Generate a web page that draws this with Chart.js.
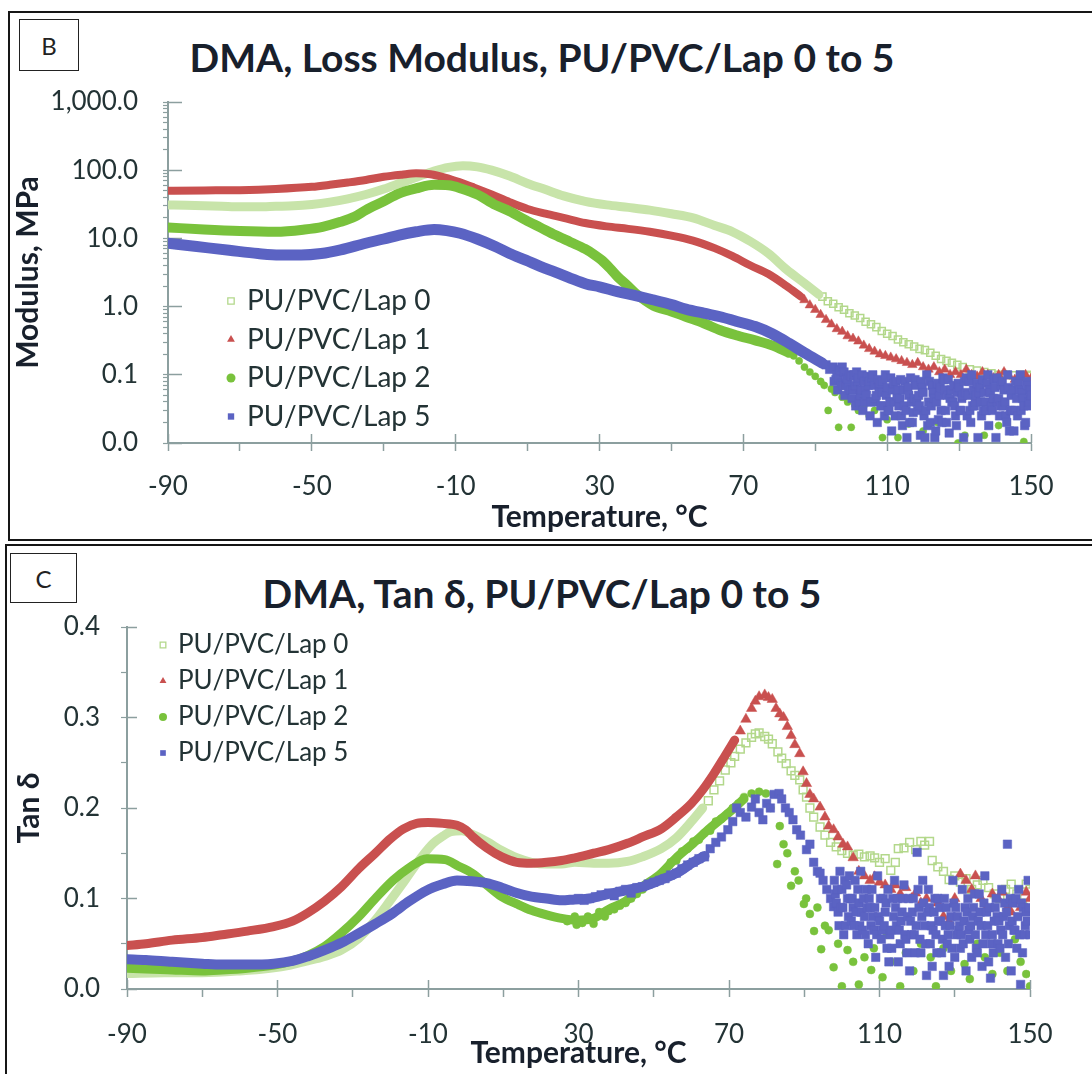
<!DOCTYPE html>
<html>
<head>
<meta charset="utf-8">
<title>DMA – PU/PVC/Lap 0 to 5</title>
<script src="https://cdn.jsdelivr.net/npm/chart.js@4.4.1/dist/chart.umd.min.js"></script>
<style>
  html, body { margin: 0; padding: 0; background: #fff; }
  body { position: relative; width: 1092px; height: 1074px; overflow: hidden;
         font-family: Lato, "Open Sans", "DejaVu Sans", sans-serif; color: #18202c; }
  .frame { position: absolute; border: 2px solid #161616; box-sizing: border-box; }
  #frameB { left: 8px; top: 11px; width: 1100px; height: 530px; }
  #frameC { left: 5px; top: 544px; width: 1100px; height: 540px; }
  .tag { position: absolute; box-sizing: border-box; border: 1.5px solid #222; display: flex;
         align-items: center; justify-content: center; font-size: 24px; color: #222; }
  #tagB { left: 19px; top: 19px; width: 60px; height: 52px; }
  #tagC { left: 10px; top: 553px; width: 67px; height: 50px; }
  .title { position: absolute; left: 0; width: 1084px; text-align: center; font-weight: 700;
           font-size: 39px; line-height: 40px; color: #18202c; white-space: nowrap; }
  #titleB { top: 37px; }
  #titleC { top: 573px; }
  canvas { position: absolute; left: 0; }
  #chartB { top: 0; }
  #chartC { top: 542px; }
</style>
</head>
<body>
<div class="frame" id="frameB"></div>
<div class="frame" id="frameC"></div>
<div class="tag" id="tagB">B</div>
<div class="tag" id="tagC">C</div>
<div class="title" id="titleB">DMA, Loss Modulus, PU/PVC/Lap 0 to 5</div>
<div class="title" id="titleC">DMA, Tan δ, PU/PVC/Lap 0 to 5</div>
<canvas id="chartB" width="1092" height="542"></canvas>
<canvas id="chartC" width="1092" height="532"></canvas>
<script>
// ---------- axis ticks ----------
const tempTickValues = [-90, -70, -50, -30, -10, 10, 30, 50, 70, 90, 110, 130, 150];
const tempTickLabels = [-90, -50, -10, 30, 70, 110, 150];
const modulusTickValues = [0.01, 0.1, 1, 10, 100, 1000];
const modulusTickLabels = ['0.0', '0.1', '1.0', '10.0', '100.0', '1,000.0'];
const tanTickValues = [0, 0.1, 0.2, 0.3, 0.4];
const tanTickLabels = ['0.0', '0.1', '0.2', '0.3', '0.4'];
const tanMinorTicks = [0, 0.05, 0.1, 0.15, 0.2, 0.25, 0.3, 0.35, 0.4];

const seriesNames = ['PU/PVC/Lap 0', 'PU/PVC/Lap 1', 'PU/PVC/Lap 2', 'PU/PVC/Lap 5'];

// ---------- loss modulus E'' (MPa) vs temperature (°C) ----------
// continuous part of each trace
const lossLap0Trace = [[-90,31],[-85,30.5],[-80,30],[-75,29.5],[-70,29],[-65,29],[-60,29.5],[-55,30],[-50,31.5],[-45,34],[-40,38],[-35,44],[-30,53],[-25,66],[-20,82],[-16,97],[-12,110],[-8,116],[-4,112],[0,100],[5,82],[10,64],[15,52],[20,42],[26,35],[32,31],[38,28.5],[44,26],[50,23],[56,20],[62,15.5],[67,12.5],[72,9],[77,6],[82,3.5],[87,2.2],[91,1.5]];
const lossLap1Trace = [[-90,50],[-80,50.5],[-70,51],[-60,53],[-50,57],[-45,61],[-40,66],[-35,72],[-30,80],[-25,86],[-21,90],[-17,87],[-13,78],[-9,67],[-5,56],[0,44],[5,34],[10,27],[15,23],[20,20],[26,16.8],[32,15],[38,13.8],[44,12.5],[50,11],[56,9.3],[62,7.2],[67,5.5],[72,4],[77,3],[82,2],[86,1.4]];
const lossLap2Trace = [[-90,14.5],[-80,13.5],[-70,12.8],[-60,12.5],[-52,13.5],[-47,14.8],[-42,17.5],[-38,21],[-35,26],[-30,35],[-26,45],[-21,54],[-16,61],[-12,60],[-8.5,54],[-4,44],[1,31],[5,25],[9.5,18.5],[13.5,14.5],[17.7,11.2],[22,8.8],[26,7],[28.5,5.8],[30.6,4.8],[33,3.6],[35,2.75],[37.5,2.1],[40,1.57],[42.5,1.25],[45,1.03],[50,0.85],[54,0.71],[59,0.57],[63.6,0.45],[68,0.38],[73.3,0.32],[78,0.27],[82.7,0.21]];
const lossLap5Trace = [[-90,8.5],[-82,7.6],[-73,6.7],[-65,6],[-59,5.7],[-53,5.7],[-47.4,6],[-42,6.8],[-35,8.5],[-30,9.8],[-25.7,11.2],[-21,12.5],[-16,13.5],[-12.5,13],[-8.8,11.9],[-4,9.8],[1,7.6],[5,6],[9.5,4.8],[13.5,3.9],[17.7,3.2],[22,2.6],[26.3,2.15],[30,1.95],[35,1.66],[40,1.45],[44.8,1.26],[50,1.07],[54,0.92],[59,0.8],[63.6,0.71],[68,0.61],[73.3,0.51],[78,0.4],[82.7,0.29],[87,0.21],[92,0.148]];
// scattered high-temperature readings
const lossLap0Tail = [[92,1.4],[93.5,1.2],[95,1.1],[96.5,0.98],[98,0.9],[99.5,0.8],[101,0.74],[102.5,0.68],[104,0.6],[105.5,0.55],[107,0.5],[108.5,0.44],[110,0.4],[111.5,0.37],[113,0.33],[114.5,0.3],[116,0.28],[117.5,0.26],[119,0.24],[120.5,0.23],[122,0.21],[123.5,0.19],[125,0.17],[126.5,0.16],[128,0.15],[129.5,0.14],[131,0.13],[133,0.12],[135,0.115],[137,0.11],[139,0.105],[141,0.1],[143,0.1],[145,0.098],[147,0.1],[149,0.097],[150,0.1]];
const lossLap1Tail = [[87,1.25],[88.5,1.05],[90,0.9],[91.5,0.76],[93,0.64],[94.5,0.55],[96,0.47],[97.5,0.43],[99,0.37],[100.5,0.34],[102,0.31],[103.5,0.27],[105,0.24],[106.5,0.22],[108,0.2],[109.5,0.19],[111,0.18],[112.5,0.17],[114,0.16],[115.5,0.15],[117,0.14],[118.5,0.15],[120,0.13],[121.5,0.12],[123,0.13],[124.5,0.11],[126,0.12],[127.5,0.1],[129,0.11],[130.5,0.1],[132,0.12],[133.5,0.1],[135,0.095],[136.5,0.11],[138,0.1],[139.5,0.09],[141,0.1],[142.5,0.11],[144,0.095],[145.5,0.085],[147,0.09],[148.5,0.1],[150,0.088]];
const lossLap2Tail = [[84,0.19],[85.5,0.16],[87,0.13],[88.5,0.11],[90,0.095],[91.5,0.08],[92.5,0.07],[93.6,0.03],[94.5,0.062],[95.5,0.055],[96.5,0.017],[97.5,0.047],[99,0.04],[100,0.017],[101,0.036],[102,0.03],[103.5,0.035],[105,0.025],[106.5,0.03],[108.7,0.012],[110,0.022],[113,0.012],[116,0.019],[120,0.015],[124,0.02],[129.7,0.01],[131.6,0.013],[137,0.013],[141,0.018],[145,0.015],[148,0.0105]];
const lossLap5Tail = [[93,0.14],[94,0.12],[95,0.13],[95.25,0.08],[95.75,0.085],[96,0.1],[96.25,0.06],[96.5,0.09],[96.75,0.12],[97,0.115],[97.25,0.075],[97.5,0.13],[97.75,0.07],[98,0.11],[98.25,0.05],[98.5,0.07],[98.75,0.09],[99,0.085],[99.25,0.065],[99.5,0.1],[99.75,0.06],[100,0.095],[100.25,0.045],[100.5,0.06],[100.75,0.1],[101,0.07],[101.25,0.035],[101.5,0.11],[101.75,0.08],[102,0.09],[102.25,0.04],[102.5,0.05],[102.75,0.06],[103,0.1],[103.25,0.03],[103.5,0.08],[103.75,0.04],[104,0.06],[104.25,0.05],[104.5,0.095],[104.75,0.07],[105,0.08],[105.25,0.025],[105.5,0.04],[105.75,0.09],[106,0.1],[106.25,0.04],[106.5,0.07],[106.75,0.045],[107,0.05],[107.25,0.02],[107.5,0.085],[107.75,0.065],[108,0.075],[108.25,0.035],[108.5,0.055],[108.75,0.08],[109,0.035],[109.25,0.025],[109.5,0.1],[109.75,0.05],[110,0.065],[110.25,0.03],[110.5,0.03],[110.75,0.04],[111,0.09],[111.25,0.015],[111.5,0.06],[111.75,0.075],[112,0.04],[112.25,0.025],[112.5,0.08],[112.75,0.05],[113,0.06],[113.25,0.035],[113.5,0.045],[113.75,0.085],[114,0.025],[114.25,0.018],[114.5,0.06],[114.75,0.035],[115,0.08],[115.25,0.03],[115.5,0.012],[115.75,0.065],[116,0.05],[116.25,0.02],[116.5,0.09],[116.75,0.04],[117,0.02],[117.25,0.028],[117.5,0.045],[117.75,0.085],[118,0.07],[118.25,0.04],[118.5,0.03],[118.75,0.05],[119,0.035],[119.25,0.013],[119.5,0.08],[119.75,0.065],[120,0.055],[120.25,0.025],[120.5,0.012],[120.75,0.03],[121,0.1],[121.25,0.018],[121.5,0.04],[121.75,0.08],[122,0.02],[122.25,0.035],[122.5,0.07],[122.75,0.055],[123,0.045],[123.25,0.012],[123.5,0.015],[123.75,0.04],[124,0.075],[124.25,0.022],[124.5,0.05],[124.75,0.065],[125,0.03],[125.25,0.02],[125.5,0.09],[125.75,0.085],[126,0.06],[126.25,0.03],[126.5,0.02],[126.75,0.05],[127,0.085],[127.25,0.014],[127.5,0.045],[127.75,0.06],[128,0.04],[128.25,0.04],[128.5,0.07],[128.75,0.035],[129,0.025],[129.25,0.018],[129.5,0.055],[129.75,0.075],[130,0.065],[130.25,0.03],[130.5,0.03],[130.75,0.045],[131,0.05],[131.25,0.012],[131.5,0.08],[131.75,0.055],[132,0.09],[132.25,0.025],[132.5,0.05],[132.75,0.08],[133,0.03],[133.25,0.02],[133.5,0.1],[133.75,0.035],[134,0.06],[134.25,0.035],[134.5,0.04],[134.75,0.05],[135,0.075],[135.25,0.012],[135.5,0.055],[135.75,0.065],[136,0.04],[136.25,0.025],[136.5,0.085],[136.75,0.03],[137,0.055],[137.25,0.04],[137.5,0.03],[137.75,0.075],[138,0.1],[138.25,0.018],[138.5,0.06],[138.75,0.055],[139,0.035],[139.25,0.03],[139.5,0.045],[139.75,0.085],[140,0.065],[140.25,0.012],[140.5,0.09],[140.75,0.04],[141,0.045],[141.25,0.025],[141.5,0.035],[141.75,0.07],[142,0.08],[142.25,0.035],[142.5,0.06],[142.75,0.04],[143,0.025],[143.25,0.02],[143.5,0.1],[143.75,0.065],[144,0.015],[144.25,0.03],[144.5,0.05],[144.75,0.03],[145,0.06],[145.25,0.015],[145.5,0.03],[145.75,0.08],[146,0.045],[146.25,0.025],[146.5,0.075],[146.75,0.06],[147,0.1],[147.25,0.03],[147.5,0.055],[147.75,0.045],[148,0.035],[148.25,0.018],[148.5,0.02],[148.75,0.08],[149,0.07],[149.25,0.035],[149.5,0.04],[149.75,0.06],[150,0.05]];

// ---------- tan δ vs temperature (°C) ----------
const tanLap0Trace = [[-90,0.017],[-80,0.018],[-70,0.018],[-60,0.02],[-52,0.023],[-46.5,0.0265],[-42,0.031],[-37.5,0.036],[-33,0.043],[-28.4,0.056],[-24,0.076],[-20,0.098],[-17,0.115],[-14.8,0.128],[-11.5,0.147],[-8.6,0.161],[-6,0.169],[-3.9,0.174],[-1,0.175],[1.7,0.171],[5.6,0.163],[9.6,0.153],[13.6,0.145],[17.5,0.14],[21.5,0.138],[25.5,0.138],[29,0.14],[34,0.139],[38,0.139],[43,0.141],[47,0.146],[52,0.155],[56,0.167],[60,0.185],[63,0.2]];
const tanLap1Trace = [[-90,0.048],[-85,0.05],[-78,0.054],[-70,0.057],[-64.7,0.06],[-58,0.064],[-51,0.069],[-46,0.075],[-42,0.084],[-37.5,0.097],[-33,0.113],[-28.4,0.133],[-24,0.15],[-20,0.166],[-16.5,0.177],[-13,0.183],[-10,0.184],[-6,0.183],[-2.3,0.181],[0,0.176],[1.7,0.169],[5.6,0.156],[9.6,0.146],[13.6,0.14],[17.5,0.139],[21.5,0.14],[25.5,0.142],[29,0.145],[34,0.15],[38,0.154],[43,0.161],[47,0.168],[52,0.177],[56,0.19],[60,0.205],[63,0.22],[66,0.238],[69,0.258],[71.5,0.275]];
const tanLap2Trace = [[-90,0.023],[-85,0.022],[-78,0.021],[-70,0.02],[-64.7,0.021],[-58,0.023],[-51,0.0265],[-46,0.031],[-42,0.037],[-37.5,0.047],[-33,0.062],[-28.4,0.08],[-24,0.1],[-19.3,0.12],[-15,0.134],[-10.3,0.144],[-5.5,0.143],[-2,0.136],[1.7,0.128],[5.6,0.115],[9.6,0.102],[13.6,0.094],[17.5,0.087],[21.5,0.082],[25.5,0.078],[29.5,0.076],[34,0.078],[38,0.088],[42.5,0.097],[47,0.113],[51.5,0.126],[56,0.145],[60.5,0.161],[65,0.178],[69.7,0.194],[74,0.21]];
const tanLap5Trace = [[-90,0.033],[-85,0.032],[-78,0.03],[-70,0.028],[-64.7,0.027],[-58,0.027],[-51,0.028],[-46,0.031],[-42,0.036],[-37.5,0.043],[-33,0.051],[-28.4,0.0615],[-24,0.072],[-19.3,0.084],[-15,0.097],[-10.3,0.109],[-6,0.116],[-2.3,0.12],[1.7,0.119],[5.6,0.117],[9.6,0.112],[13.6,0.106],[17.5,0.102],[21.5,0.1],[25.5,0.098],[29,0.099],[33,0.1],[38,0.105],[42.5,0.109],[47,0.113],[51.5,0.12],[56,0.128],[60.5,0.14],[63.5,0.147]];
const tanLap0Tail = [[64.5,0.208],[66,0.22],[67.5,0.23],[69,0.242],[70.5,0.25],[71.5,0.257],[73,0.265],[74.5,0.272],[76,0.278],[77,0.282],[78,0.283],[79.5,0.279],[80.5,0.276],[81.5,0.271],[83,0.262],[84,0.255],[85.2,0.249],[86.5,0.241],[87.5,0.236],[88.8,0.231],[89.7,0.22],[90.6,0.212],[91.5,0.2],[92.5,0.19],[94.2,0.179],[95.5,0.17],[97,0.162],[98.5,0.157],[100,0.153],[101.5,0.15],[103,0.148],[104.5,0.149],[106,0.146],[107.5,0.147],[108.7,0.145],[110,0.14],[111.5,0.144],[113,0.131],[114.2,0.14],[115,0.155],[116.5,0.156],[118,0.162],[119.6,0.154],[121,0.163],[122,0.159],[123.3,0.163],[124,0.142],[125.5,0.135],[127,0.13],[128.5,0.121],[130,0.125],[131.5,0.118],[133,0.122],[134.5,0.11],[136,0.115],[137.5,0.12],[139,0.112],[140.5,0.105],[142,0.1],[143.5,0.11],[145,0.116],[146.5,0.105],[148,0.095],[149,0.116],[150,0.11]];
const tanLap1Tail = [[73,0.285],[74.5,0.298],[76,0.31],[77,0.318],[78,0.323],[79.5,0.325],[80.5,0.322],[81.5,0.32],[82.5,0.31],[83.5,0.304],[84.5,0.3],[85.5,0.29],[86.5,0.28],[87.5,0.27],[88.8,0.26],[89.7,0.24],[90.6,0.227],[91.5,0.215],[92.5,0.21],[94.2,0.201],[95.5,0.19],[96.5,0.18],[97.8,0.176],[99,0.168],[100.3,0.16],[101.5,0.157],[103,0.145],[104.5,0.13],[106,0.125],[107.5,0.12],[108.7,0.124],[110,0.118],[111.5,0.115],[113,0.11],[114.2,0.115],[115.5,0.105],[117,0.112],[118.5,0.1],[119.6,0.106],[121,0.095],[122.5,0.1],[124,0.085],[125.5,0.095],[127,0.08],[128.5,0.075],[130,0.1],[131.5,0.127],[133,0.12],[134.5,0.11],[135.5,0.125],[137,0.1],[138.5,0.09],[140,0.105],[141.5,0.1],[142.7,0.107],[144,0.09],[145,0.085],[146,0.097],[147.5,0.09],[149,0.107],[150,0.1]];
const tanLap2Tail = [[27,0.075],[29,0.08],[29.5,0.071],[31,0.073],[32.5,0.08],[34,0.072],[35.5,0.085],[37,0.08],[38,0.086],[39.5,0.088],[41,0.092],[42.5,0.095],[44,0.1],[45.5,0.105],[47,0.11],[48.5,0.115],[50,0.12],[51.5,0.125],[53,0.13],[54.5,0.14],[56,0.142],[57.5,0.152],[59,0.155],[60.5,0.163],[62,0.165],[63.4,0.172],[65,0.175],[66.5,0.185],[68,0.188],[69.7,0.194],[71,0.2],[72.5,0.205],[74,0.212],[76,0.216],[78,0.218],[79.8,0.216],[81,0.2],[82.8,0.138],[83.5,0.18],[84.5,0.16],[85.5,0.15],[86.5,0.114],[87.5,0.13],[88.5,0.12],[89.9,0.094],[90.5,0.1],[91.5,0.083],[92.6,0.064],[93.5,0.09],[94.5,0.044],[95.5,0.07],[96.5,0.065],[97.8,0.024],[99,0.05],[100,0.003],[101.5,0.043],[103,0.03],[104.5,0.005],[106,0.035],[107.8,0.021],[108.5,0.045],[110.8,0.013],[112,0.06],[113,0.03],[115.5,0.003],[117,0.04],[119,0.02],[121,0.05],[123.6,0.035],[125,0.003],[127,0.045],[129,0.02],[130.5,0.06],[132.6,0.0275],[134,0.011],[136,0.05],[138,0.035],[140,0.0165],[142,0.04],[144,0.02],[146,0.055],[147.5,0.03],[149,0.0165],[150,0.003]];
const tanLap5Tail = [[30,0.1],[31.5,0.098],[33,0.1],[34.5,0.102],[36,0.104],[38,0.106],[39.5,0.103],[41,0.108],[42.5,0.11],[44,0.106],[45.5,0.112],[47,0.113],[48.5,0.116],[50,0.118],[51.5,0.12],[53,0.122],[54.5,0.126],[56,0.128],[57.5,0.133],[59,0.137],[60.5,0.14],[62,0.144],[63.5,0.146],[65,0.155],[66.5,0.162],[68,0.168],[69.7,0.176],[71,0.185],[72,0.2],[73,0.195],[74.5,0.19],[76,0.201],[77,0.21],[78,0.195],[79,0.187],[80,0.205],[81,0.2],[82,0.215],[83.3,0.216],[84,0.21],[85,0.2],[86,0.195],[87,0.187],[88,0.176],[89,0.17],[90.6,0.154],[91.5,0.16],[92.5,0.14],[93.5,0.13],[94.2,0.128],[95,0.12],[96,0.11],[97,0.1],[97.8,0.091],[98,0.12],[98.25,0.105],[98.5,0.095],[98.75,0.11],[99,0.085],[99.25,0.07],[99.5,0.13],[99.75,0.09],[100,0.11],[100.25,0.09],[100.5,0.06],[100.75,0.12],[101,0.07],[101.25,0.115],[101.5,0.1],[101.75,0.08],[102,0.125],[102.25,0.1],[102.5,0.075],[102.75,0.1],[103,0.09],[103.25,0.07],[103.5,0.12],[103.75,0.085],[104,0.06],[104.25,0.11],[104.5,0.095],[104.75,0.07],[105,0.13],[105.25,0.085],[105.5,0.065],[105.75,0.1],[106,0.08],[106.25,0.06],[106.5,0.11],[106.75,0.09],[107,0.05],[107.25,0.1],[107.5,0.09],[107.75,0.07],[108,0.11],[108.25,0.08],[108.5,0.065],[108.75,0.09],[109,0.035],[109.25,0.06],[109.5,0.125],[109.75,0.08],[110,0.075],[110.25,0.1],[110.5,0.055],[110.75,0.065],[111,0.1],[111.25,0.07],[111.5,0.085],[111.75,0.095],[112,0.045],[112.25,0.11],[112.5,0.03],[112.75,0.06],[113,0.065],[113.25,0.045],[113.5,0.1],[113.75,0.08],[114,0.12],[114.25,0.09],[114.5,0.07],[114.75,0.1],[115,0.03],[115.25,0.065],[115.5,0.05],[115.75,0.075],[116,0.085],[116.25,0.1],[116.5,0.115],[116.75,0.06],[117,0.055],[117.25,0.04],[117.5,0.08],[117.75,0.1],[118,0.02],[118.25,0.075],[118.5,0.06],[118.75,0.085],[119,0.1],[119.25,0.06],[119.5,0.04],[119.75,0.07],[120,0.151],[120.25,0.11],[120.5,0.09],[120.75,0.055],[121,0.04],[121.25,0.08],[121.5,0.12],[121.75,0.095],[122,0.07],[122.25,0.05],[122.5,0.015],[122.75,0.085],[123,0.11],[123.25,0.09],[123.5,0.05],[123.75,0.07],[124,0.025],[124.25,0.065],[124.5,0.085],[124.75,0.1],[125,0.06],[125.25,0.04],[125.5,0.1],[125.75,0.075],[126,0.09],[126.25,0.075],[126.5,0.04],[126.75,0.055],[127,0.015],[127.25,0.1],[127.5,0.07],[127.75,0.09],[128,0.05],[128.25,0.06],[128.5,0.025],[128.75,0.07],[129,0.08],[129.25,0.045],[129.5,0.12],[129.75,0.095],[130,0.035],[130.25,0.09],[130.5,0.06],[130.75,0.08],[131,0.065],[131.25,0.07],[131.5,0.045],[131.75,0.06],[132,0.11],[132.25,0.05],[132.5,0.075],[132.75,0.09],[133,0.02],[133.25,0.085],[133.5,0.1],[133.75,0.065],[134,0.055],[134.25,0.07],[134.5,0.035],[134.75,0.08],[135,0.09],[135.25,0.105],[135.5,0.06],[135.75,0.045],[136,0.04],[136.25,0.075],[136.5,0.105],[136.75,0.085],[137,0.07],[137.25,0.025],[137.5,0.05],[137.75,0.095],[138,0.125],[138.25,0.06],[138.5,0.085],[138.75,0.07],[139,0.03],[139.25,0.09],[139.5,0.012],[139.75,0.05],[140,0.06],[140.25,0.04],[140.5,0.075],[140.75,0.09],[141,0.1],[141.25,0.08],[141.5,0.05],[141.75,0.075],[142,0.045],[142.25,0.065],[142.5,0.11],[142.75,0.06],[143,0.08],[143.25,0.095],[143.5,0.035],[143.75,0.085],[144,0.16],[144.25,0.05],[144.5,0.07],[144.75,0.1],[145,0.02],[145.25,0.075],[145.5,0.095],[145.75,0.065],[146,0.065],[146.25,0.1],[146.5,0.045],[146.75,0.08],[147,0.11],[147.25,0.06],[147.5,0.005],[147.75,0.095],[148,0.04],[148.25,0.09],[148.5,0.06],[148.75,0.07],[149,0.085],[149.25,0.075],[149.5,0.12],[149.75,0.09],[150,0.06]];

// ---------- styling ----------
const FONT_FAMILY = 'Lato, "Open Sans", "DejaVu Sans", sans-serif';
const AXIS_COLOR = '#8c9f9f';
const TICK_COLOR = '#233335';
const TITLE_COLOR = '#18202c';
const seriesLook = [
  { band: '#c8e4aa', mark: '#b3d88b', style: 'rect', hollow: true },
  { band: '#c9504f', mark: '#c9504f', style: 'triangle', hollow: false },
  { band: '#79c23c', mark: '#79c23c', style: 'circle', hollow: false },
  { band: '#5b63c3', mark: '#5b63c3', style: 'rect', hollow: false }
];

const toPoints = rows => rows.map(([x, y]) => ({ x, y }));

// one smooth band + one marker cloud per sample; Lap 5 drawn on top
function buildDatasets(traces, tails, bandWidths, radii) {
  const out = [];
  traces.forEach((trace, i) => {
    const look = seriesLook[i];
    const order = traces.length - 1 - i;
    out.push({
      label: seriesNames[i], data: toPoints(trace), showLine: true,
      borderColor: look.band, borderWidth: bandWidths[i], borderCapStyle: 'round', borderJoinStyle: 'round',
      cubicInterpolationMode: 'monotone', pointRadius: 0, order
    });
    out.push({
      label: seriesNames[i], data: toPoints(tails[i]), showLine: false,
      pointStyle: look.style, pointRadius: radii[i],
      backgroundColor: look.hollow ? 'rgba(255,255,255,0)' : look.mark,
      borderColor: look.mark, borderWidth: look.hollow ? 1.5 : 0.5, order
    });
  });
  return out;
}

// legend placed inside the plotting area
const insideLegend = {
  id: 'insideLegend',
  afterDatasetsDraw(chart, args, opts) {
    const ctx = chart.ctx;
    ctx.save();
    ctx.font = opts.font;
    ctx.textBaseline = 'middle';
    ctx.textAlign = 'left';
    seriesNames.forEach((name, i) => {
      const look = seriesLook[i];
      const y = opts.top + i * opts.step;
      ctx.fillStyle = look.hollow ? 'rgba(255,255,255,0)' : look.mark;
      ctx.strokeStyle = look.mark;
      ctx.lineWidth = 1.3;
      Chart.helpers.drawPoint(ctx, { pointStyle: look.style, radius: opts.radius, rotation: 0,
        borderWidth: look.hollow ? 1.3 : 0 }, opts.markX, y);
      ctx.fillStyle = opts.color;
      ctx.fillText(name, opts.textX, y);
    });
    ctx.restore();
  }
};

function temperatureAxes(axisHeight, labelPad, titlePad) {
  return {
    x: {
      type: 'linear', min: -90, max: 150, position: 'bottom', weight: 1,
      afterBuildTicks: s => { s.ticks = tempTickValues.map(v => ({ value: v })); },
      afterFit: s => { s.height = axisHeight; },
      grid: { drawOnChartArea: false, drawTicks: true, tickLength: 8, tickWidth: 1.5, tickColor: AXIS_COLOR },
      border: { display: true, color: AXIS_COLOR, width: 2 },
      ticks: { autoSkip: false, maxRotation: 0, padding: labelPad, color: TICK_COLOR,
               font: { family: FONT_FAMILY, size: 26 },
               callback: v => tempTickLabels.includes(v) ? String(v) : '' },
      title: { display: true, text: 'Temperature, °C', color: TITLE_COLOR,
               font: { family: FONT_FAMILY, size: 30, weight: 'bold' }, padding: { top: 0, bottom: titlePad } }
    },
    xMajor: {
      type: 'linear', min: -90, max: 150, position: 'bottom', weight: 0,
      afterBuildTicks: s => { s.ticks = tempTickLabels.map(v => ({ value: v })); },
      afterFit: s => { s.height = 0; },
      grid: { drawOnChartArea: false, drawTicks: true, tickLength: -9, tickWidth: 1.5, tickColor: AXIS_COLOR },
      border: { display: false },
      ticks: { autoSkip: false, maxRotation: 0, callback: () => '' }
    }
  };
}

// ---------- panel B: loss modulus (log scale) ----------
const modulusMinorTicks = [];
modulusTickValues.slice(0, -1).forEach(d => { for (let k = 1; k < 10; k++) modulusMinorTicks.push(d * k); });
modulusMinorTicks.push(1000);

const modulusLabel = v => {
  const i = modulusTickValues.findIndex(t => Math.abs(Math.log10(t) - Math.log10(v)) < 1e-6);
  return i >= 0 ? modulusTickLabels[i] : '';
};

new Chart(document.getElementById('chartB'), {
  type: 'scatter',
  data: { datasets: buildDatasets(
    [lossLap0Trace, lossLap1Trace, lossLap2Trace, lossLap5Trace],
    [lossLap0Tail, lossLap1Tail, lossLap2Tail, lossLap5Tail],
    [9, 8, 10, 11], [5, 5.5, 3.6, 6]) },
  options: {
    responsive: false, animation: false, events: [],
    layout: { padding: { left: 0, top: 102, right: 61, bottom: 0 } },
    plugins: {
      legend: { display: false }, tooltip: { enabled: false },
      insideLegend: { font: '28px ' + FONT_FAMILY, color: TICK_COLOR, markX: 231, textX: 247, top: 301, step: 38.5, radius: 4.5 }
    },
    scales: Object.assign(temperatureAxes(99, 20, 7), {
      y: {
        type: 'logarithmic', min: 0.01, max: 1000, position: 'left', weight: 1,
        afterBuildTicks: s => { s.ticks = modulusMinorTicks.map(v => ({ value: v })); },
        afterFit: s => { s.width = 168; },
        grid: { drawOnChartArea: false, drawTicks: true, tickLength: 5, tickWidth: 1.2, tickColor: AXIS_COLOR },
        border: { display: true, color: AXIS_COLOR, width: 2 },
        ticks: { autoSkip: false, padding: 25, color: TICK_COLOR, font: { family: FONT_FAMILY, size: 26 },
                 callback: v => modulusLabel(v) },
        title: { display: true, text: 'Modulus, MPa', color: TITLE_COLOR,
                 font: { family: FONT_FAMILY, size: 30, weight: 'bold' }, padding: { top: 10, bottom: 0 } }
      },
      yMajor: {
        type: 'logarithmic', min: 0.01, max: 1000, position: 'left', weight: 0,
        afterBuildTicks: s => { s.ticks = modulusTickValues.map(v => ({ value: v })); },
        afterFit: s => { s.width = 0; },
        grid: { drawOnChartArea: false, drawTicks: true, tickLength: -14, tickWidth: 1.5, tickColor: AXIS_COLOR },
        border: { display: false },
        ticks: { autoSkip: false, callback: () => '' }
      }
    })
  },
  plugins: [insideLegend]
});

// ---------- panel C: tan δ ----------
const tanLabel = v => {
  const i = tanTickValues.findIndex(t => Math.abs(t - v) < 1e-9);
  return i >= 0 ? tanTickLabels[i] : '';
};

new Chart(document.getElementById('chartC'), {
  type: 'scatter',
  data: { datasets: buildDatasets(
    [tanLap0Trace, tanLap1Trace, tanLap2Trace, tanLap5Trace],
    [tanLap0Tail, tanLap1Tail, tanLap2Tail, tanLap5Tail],
    [9, 9, 9, 10], [5.5, 6, 4, 6]) },
  options: {
    responsive: false, animation: false, events: [],
    layout: { padding: { left: 0, top: 85, right: 62, bottom: 0 } },
    plugins: {
      legend: { display: false }, tooltip: { enabled: false },
      insideLegend: { font: '26px ' + FONT_FAMILY, color: TICK_COLOR, markX: 163, textX: 178, top: 103, step: 36, radius: 4 }
    },
    scales: Object.assign(temperatureAxes(85, 22, 3), {
      y: {
        type: 'linear', min: 0, max: 0.4, position: 'left', weight: 1,
        afterBuildTicks: s => { s.ticks = tanMinorTicks.map(v => ({ value: v })); },
        afterFit: s => { s.width = 127; },
        grid: { drawOnChartArea: false, drawTicks: true, tickLength: 6, tickWidth: 1.2, tickColor: AXIS_COLOR },
        border: { display: true, color: AXIS_COLOR, width: 2 },
        ticks: { autoSkip: false, padding: 21, color: TICK_COLOR, font: { family: FONT_FAMILY, size: 26 },
                 callback: v => tanLabel(v) },
        title: { display: true, text: 'Tan δ', color: TITLE_COLOR,
                 font: { family: FONT_FAMILY, size: 30, weight: 'bold' }, padding: { top: 11, bottom: 0 } }
      },
      yMajor: {
        type: 'linear', min: 0, max: 0.4, position: 'left', weight: 0,
        afterBuildTicks: s => { s.ticks = tanTickValues.map(v => ({ value: v })); },
        afterFit: s => { s.width = 0; },
        grid: { drawOnChartArea: false, drawTicks: true, tickLength: -10, tickWidth: 1.5, tickColor: AXIS_COLOR },
        border: { display: false },
        ticks: { autoSkip: false, callback: () => '' }
      }
    })
  },
  plugins: [insideLegend]
});
</script>
</body>
</html>
